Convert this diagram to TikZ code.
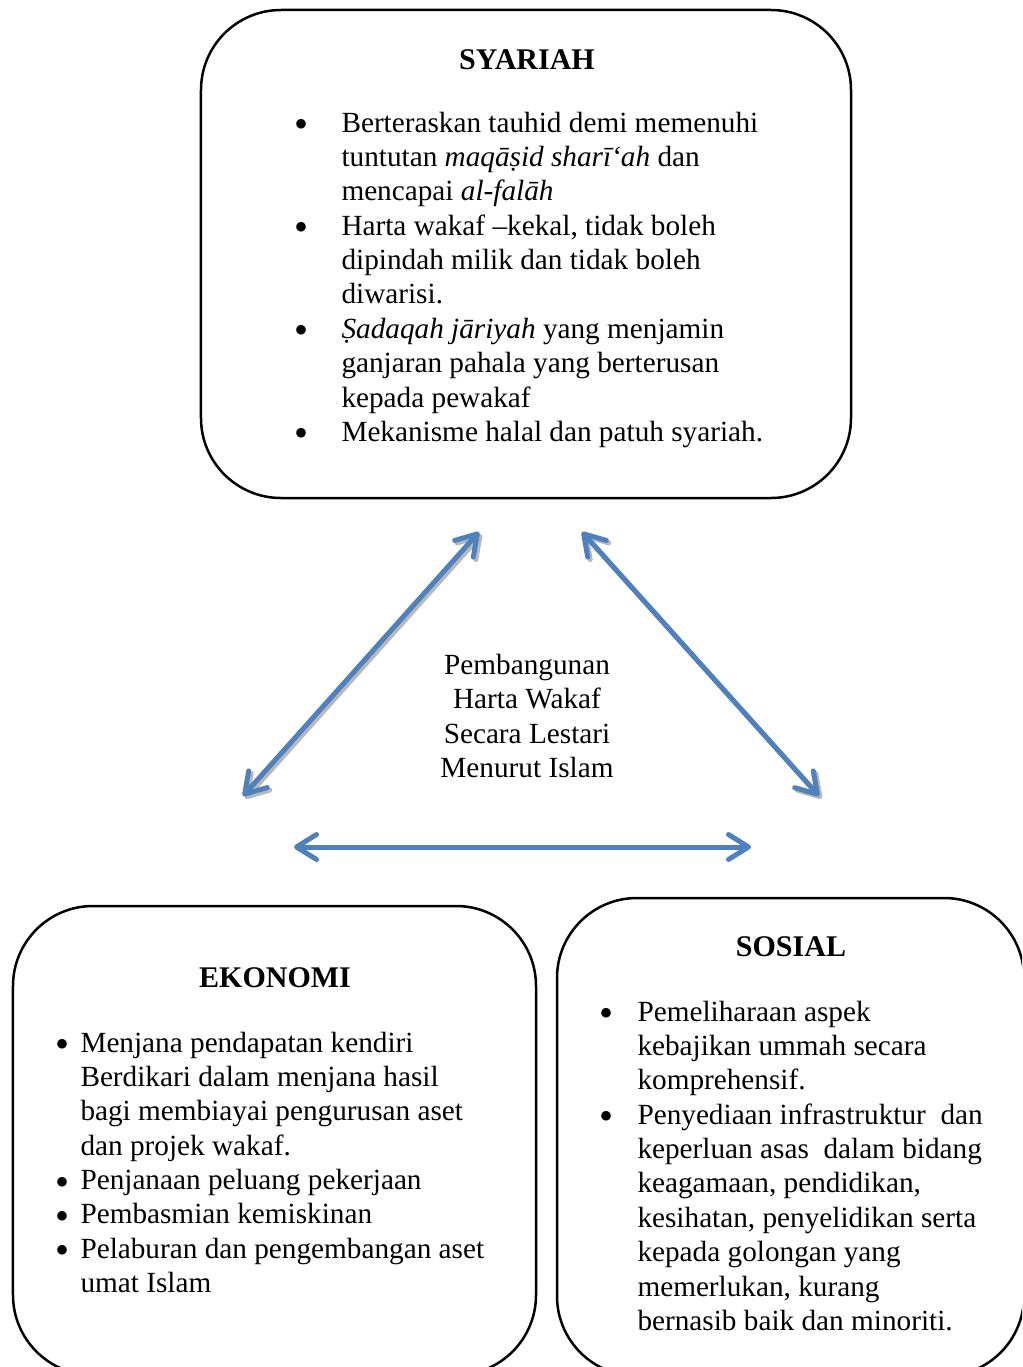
\documentclass[tikz,border=0pt]{standalone}
\usepackage{fontspec}
\setmainfont{Liberation Serif}
\usetikzlibrary{arrows.meta}
\definecolor{arrowblue}{RGB}{79,129,189}
\definecolor{shadowgray}{RGB}{185,185,185}
% a round list bullet, a little heavier than the text bullet
\newcommand{\dotmark}{\smash{\raisebox{-2.2pt}{{\fontsize{16}{13.75}\selectfont\textbullet}}}}
\begin{document}
\begin{tikzpicture}[x=0.4pt,y=-0.4pt,
  panel/.style={draw=black,line width=1pt,rounded corners=32pt,rectangle,inner sep=0pt},
  heading/.style={font=\fontsize{12}{13.75}\selectfont\bfseries,anchor=base,inner sep=0pt},
  body/.style={font=\fontsize{11.7}{13.75}\selectfont,anchor=base west,inner sep=0pt},
  barbs/.style={{Straight Barb[length=8pt,width=10pt,round]}-{Straight Barb[length=8pt,width=10pt,round]}},
  link/.style={barbs,draw=arrowblue,line width=2pt},
  linkshadow/.style={barbs,draw=shadowgray,line width=2pt}
]
\useasboundingbox (0,0) rectangle (1022,1367);

% --- Syariah panel
\node[panel,minimum width=260pt,minimum height=195.2pt] (syBox) at (526,254) {};
\node[heading] (syTitle) at (527,69) {SYARIAH};
\node[body] (syList) at (294,132) {\begin{tabular}[t]{@{}p{18.8pt}@{}l@{}}
\dotmark & Berteraskan tauhid demi memenuhi\\
 & tuntutan \textit{maqāṣid sharī‘ah} dan\\
 & mencapai \textit{al-falāh}\\
\dotmark & Harta wakaf –kekal, tidak boleh\\
 & dipindah milik dan tidak boleh\\
 & diwarisi.\\
\dotmark & \textit{Ṣadaqah jāriyah} yang menjamin\\
 & ganjaran pahala yang berterusan\\
 & kepada pewakaf\\
\dotmark & Mekanisme halal dan patuh syariah.
\end{tabular}};

% --- centre caption
\node[font=\fontsize{11.7}{13.75}\selectfont,align=center,inner sep=0pt] (core) at (527,716)
  {Pembangunan\\Harta Wakaf\\Secara Lestari\\Menurut Islam};

% --- arrow end points
\coordinate (ekTop) at (243,796);
\coordinate (syLeft) at (479,532);
\coordinate (syRight) at (582,532);
\coordinate (soTop) at (819,796);
\coordinate (ekSide) at (294,847);
\coordinate (soSide) at (751,847);

\draw[linkshadow] ([shift={(2.5,2.5)}]ekTop) -- ([shift={(2.5,2.5)}]syLeft);
\draw[linkshadow] ([shift={(2.5,2.5)}]syRight) -- ([shift={(2.5,2.5)}]soTop);
\draw[link] (ekTop) -- (syLeft);
\draw[link] (syRight) -- (soTop);
\draw[link] (ekSide) -- (soSide);

% --- lower panels, running past the page edge
\begin{scope}
\clip (0,0) rectangle (1022,1367);
\node[panel,minimum width=209.2pt,minimum height=187.6pt] (ekBox) at (274.5,1140.5) {};
\node[panel,minimum width=186.8pt,minimum height=191.2pt] (soBox) at (790.5,1137) {};
\end{scope}

% --- Ekonomi panel text
\node[heading] (ekTitle) at (275,987) {EKONOMI};
\node[body] (ekList) at (55,1052) {\begin{tabular}[t]{@{}p{10pt}@{}l@{}}
\dotmark & Menjana pendapatan kendiri\\
 & Berdikari dalam menjana hasil\\
 & bagi membiayai pengurusan aset\\
 & dan projek wakaf.\\
\dotmark & Penjanaan peluang pekerjaan\\
\dotmark & Pembasmian kemiskinan\\
\dotmark & Pelaburan dan pengembangan aset\\
 & umat Islam
\end{tabular}};

% --- Sosial panel text
\node[heading] (soTitle) at (791,956) {SOSIAL};
\node[body] (soList) at (599,1021) {\begin{tabular}[t]{@{}p{15.2pt}@{}l@{}}
\dotmark & Pemeliharaan aspek\\
 & kebajikan ummah secara\\
 & komprehensif.\\
\dotmark & Penyediaan infrastruktur\ \ dan\\
 & keperluan asas\ \ dalam bidang\\
 & keagamaan, pendidikan,\\
 & kesihatan, penyelidikan serta\\
 & kepada golongan yang\\
 & memerlukan, kurang\\
 & bernasib baik dan minoriti.
\end{tabular}};
\end{tikzpicture}
\end{document}
